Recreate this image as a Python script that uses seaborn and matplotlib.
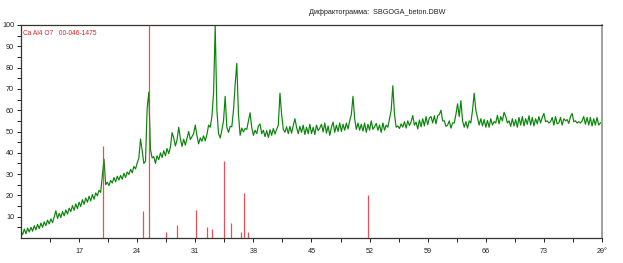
import numpy as np
import pandas as pd
import matplotlib
matplotlib.use("Agg")
import matplotlib.pyplot as plt
import seaborn as sns

# ---------------- data ----------------
theta_start = 10.0
theta_step = 0.2
intensity = [
    3.0, 1.6, 4.2, 2.0, 4.6,
    2.8, 5.0, 3.2, 5.8, 3.8,
    6.4, 4.4, 7.0, 5.0, 7.6,
    5.8, 8.4, 6.6, 9.0, 7.2,
    9.8, 12.8, 9.2, 11.6, 9.6,
    12.4, 10.4, 13.2, 11.2, 14.0,
    12.4, 15.2, 13.0, 16.0, 13.8,
    16.8, 14.8, 18.0, 15.8, 18.8,
    16.8, 19.6, 17.4, 20.4, 18.2,
    21.2, 19.8, 22.4, 21.4, 29.0,
    37.0, 25.0, 26.2, 24.6, 27.0,
    25.8, 28.4, 26.4, 29.0, 27.2,
    29.4, 27.6, 30.4, 28.4, 31.0,
    29.8, 32.2, 30.6, 33.6, 32.4,
    35.2, 37.6, 46.5, 41.0, 35.0,
    36.0, 61.0, 68.5, 41.5, 37.6,
    38.2, 35.0, 38.6, 36.8, 40.0,
    37.8, 41.0, 38.6, 42.0, 39.6,
    42.6, 49.5, 47.0, 43.2, 46.0,
    52.0, 46.8, 43.0, 46.4, 43.6,
    46.8, 50.0, 46.2, 47.6, 49.0,
    53.0, 48.0, 44.2, 47.0, 45.4,
    48.0, 45.6, 48.6, 53.0, 52.0,
    57.0, 68.0, 99.5, 60.0, 49.0,
    47.0, 50.6, 55.0, 66.5, 52.0,
    49.6, 52.4, 52.2, 60.0, 72.0,
    82.0, 58.0, 48.2, 51.6, 49.8,
    51.4, 51.0, 55.0, 58.8, 52.0,
    48.2, 50.6, 49.0, 52.6, 53.5,
    49.0, 50.6, 47.6, 50.4, 47.2,
    50.8, 48.2, 51.4, 48.8, 51.0,
    53.0, 68.0, 58.0, 51.0, 49.6,
    52.2, 49.0, 52.4, 49.2, 52.8,
    56.0, 52.0, 49.0, 52.4, 49.6,
    53.0, 48.6, 52.0, 49.0, 53.4,
    49.0, 52.0, 48.6, 53.0, 50.4,
    51.6, 53.4, 49.8, 54.0, 49.2,
    52.6, 48.2, 52.0, 54.4, 49.6,
    53.0, 50.0, 54.0, 50.0, 53.4,
    50.6, 54.0, 51.2, 55.0, 58.0,
    66.5, 56.0, 51.0, 54.0, 50.6,
    53.4, 50.2, 54.0, 49.6, 53.4,
    50.6, 55.0, 51.0, 52.2, 53.8,
    50.6, 53.0, 49.6, 54.0, 50.6,
    53.0, 52.0, 56.0, 60.0, 71.5,
    58.0, 52.0, 52.6, 51.4, 53.6,
    52.0, 54.6, 51.6, 55.0, 52.8,
    54.6, 57.5, 53.0, 54.4, 51.2,
    55.4, 52.2, 56.0, 52.6, 57.0,
    53.2, 56.4, 57.0, 54.0, 57.4,
    53.6, 57.4, 58.0, 60.0, 55.0,
    55.0, 52.4, 53.0, 55.0, 51.6,
    54.0, 54.0, 58.0, 63.0, 57.0,
    64.5, 55.0, 52.0, 54.6, 51.6,
    55.0, 54.0, 60.0, 68.0, 60.0,
    56.6, 53.0, 56.0, 52.6, 55.6,
    52.0, 55.2, 52.0, 56.0, 53.0,
    54.6, 54.0, 57.6, 53.6, 57.0,
    55.0, 59.0, 57.0, 54.0, 55.0,
    52.4, 56.0, 52.6, 55.6, 52.0,
    56.6, 53.0, 57.0, 52.6, 56.0,
    53.4, 57.4, 53.0, 56.6, 52.6,
    56.0, 53.6, 57.0, 54.0, 56.6,
    58.5, 54.6, 55.0, 54.0, 54.6,
    56.6, 53.0, 57.0, 53.6, 54.0,
    56.6, 53.0, 56.0, 55.0, 55.6,
    53.8, 57.0, 58.5, 54.6, 55.0,
    54.0, 54.6, 54.0, 55.0, 57.0,
    53.4, 56.6, 53.0, 56.6, 52.6,
    56.0, 53.0, 56.6, 53.0, 54.0,
    54.5,
]
two_theta = [round(theta_start + theta_step * i, 2) for i in range(len(intensity))]

# reference card Ca Al4 O7 00-046-1475 (stick pattern)
ref_positions = [19.9, 24.75, 25.4, 27.45, 28.85, 31.05, 32.45, 33.0, 34.4, 35.3, 36.55, 36.88, 37.4, 51.85]
ref_heights = [43, 12.5, 100, 3, 6, 13, 5, 4, 36, 7, 3, 21, 3, 20]

x_major = [17, 24, 31, 38, 45, 52, 59, 66, 73, 80]
x_labels = ["17", "24", "31", "38", "45", "52", "59", "66", "73", "2θ°"]
x_minor = [13.5, 20.5, 27.5, 34.5, 41.5, 48.5, 55.5, 62.5, 69.5, 76.5]
y_major = [10, 20, 30, 40, 50, 60, 70, 80, 90, 100]
y_minor = [5, 15, 25, 35, 45, 55, 65, 75, 85, 95]

title_text = "Дифрактограмма:  SBGOGA_beton.DBW"
card_text = "Ca Al4 O7   00-046-1475"

# ---------------- plot ----------------
sns.set_theme(style="white")
plt.rcParams["font.family"] = ["Liberation Sans", "DejaVu Sans"]

fig = plt.figure(figsize=(6.23, 2.63), dpi=100)
ax = fig.add_axes([21 / 623, 25 / 263, 581 / 623, 213 / 263])

df = pd.DataFrame({"two_theta": two_theta, "intensity": intensity})
sns.lineplot(data=df, x="two_theta", y="intensity", ax=ax, color="#0a840a",
             linewidth=0.85, estimator=None, sort=False, zorder=2)

ax.vlines(ref_positions, 0, ref_heights, colors="#e3303c", linewidth=0.9,
          alpha=0.85, zorder=3)

ax.set_xlim(10, 80)
ax.set_ylim(0, 100)
ax.set_xlabel("")
ax.set_ylabel("")

ax.set_xticks(x_major)
ax.set_xticklabels(x_labels)
ax.set_xticks(x_minor, minor=True)
ax.set_yticks(y_major)
ax.set_yticklabels([str(v) for v in y_major])
ax.set_yticks(y_minor, minor=True)

ax.tick_params(axis="both", which="both", direction="out", length=3, width=0.7,
               colors="#222222", labelsize=5.2, pad=2,
               bottom=True, left=True, top=False, right=False)
ax.tick_params(axis="x", which="major", pad=4)

for side in ["left", "bottom", "top"]:
    ax.spines[side].set_color("#333333")
    ax.spines[side].set_linewidth(0.9)
ax.spines["right"].set_color("#a0a0a0")
ax.spines["right"].set_linewidth(1.4)

ax.text(0.003, 0.975, card_text, transform=ax.transAxes, color="#e02020",
        fontsize=4.8, ha="left", va="top")
fig.text(377 / 623, 1 - 13 / 263, title_text, fontsize=5.2, color="#222222",
         ha="center", va="center")

fig.savefig("out.png", dpi=100, facecolor="white")
